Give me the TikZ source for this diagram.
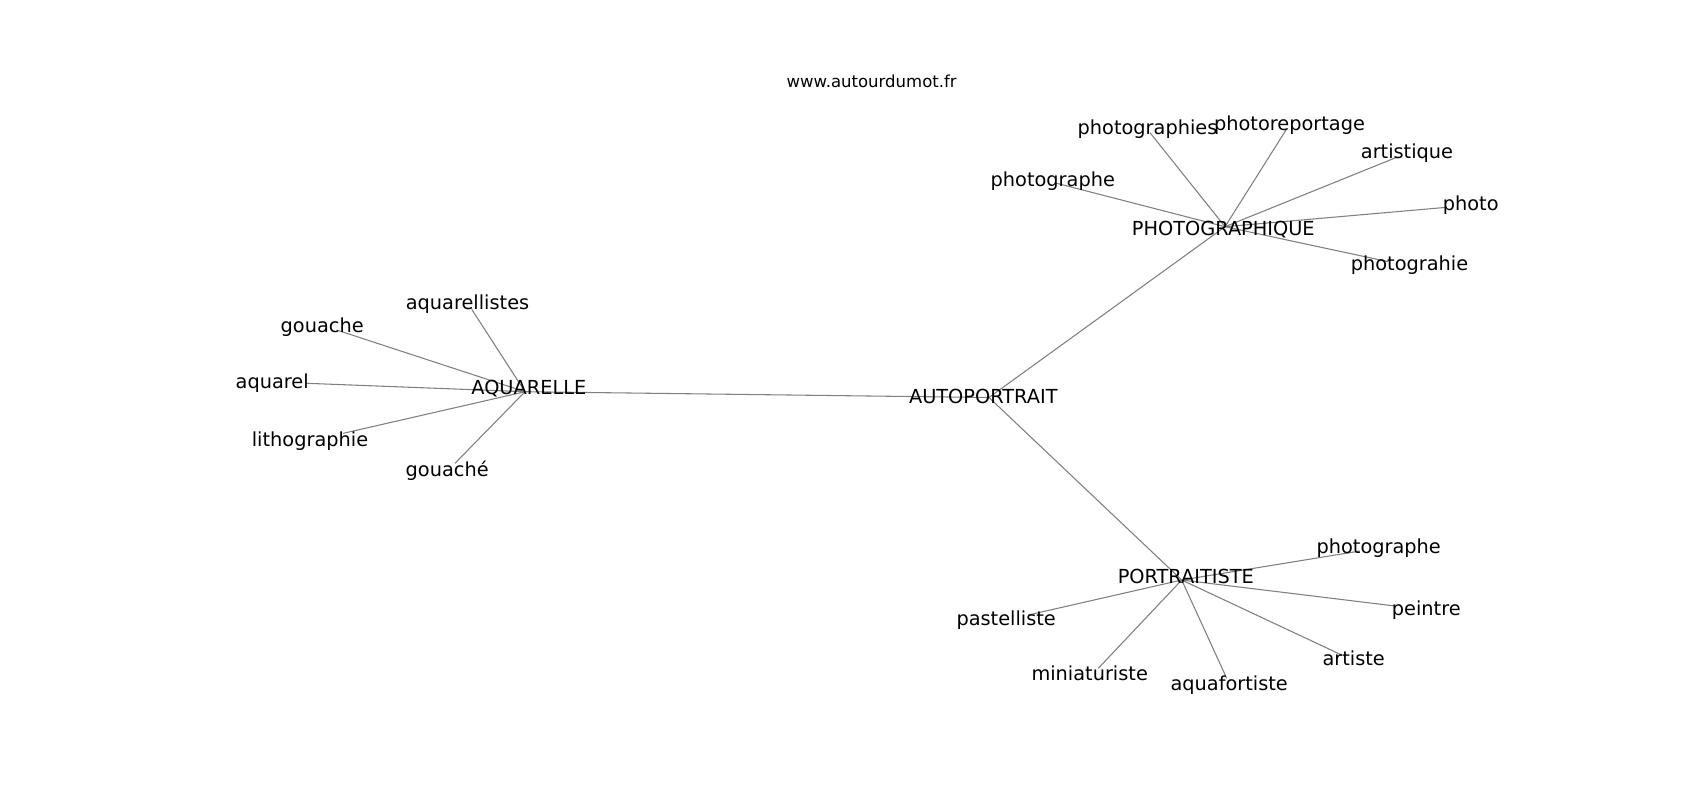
\documentclass[tikz,border=0pt]{standalone}
\usepackage{fontspec}
\setmainfont{DejaVu Sans}
\begin{document}
\begin{tikzpicture}[x=0.75pt,y=-0.75pt,
  lbl/.style={inner sep=0pt,anchor=base,text=black,font=\fontsize{14.5}{17}\selectfont},
  ttl/.style={inner sep=0pt,anchor=base,text=black,font=\fontsize{12.4}{14}\selectfont},
  edge/.style={draw=gray,line width=0.8pt}]
\useasboundingbox[fill=white] (0,0) rectangle (1700,800);
% node positions
\coordinate (aquarelle) at (525,391.7);
\coordinate (aquarellistes) at (471.7,309.3);
\coordinate (gouache) at (336.7,330);
\coordinate (aquarel) at (306.7,383.3);
\coordinate (lithographie) at (343.3,433.3);
\coordinate (gouacheacc) at (455,463.3);
\coordinate (autoportrait) at (989,397.5);
\coordinate (photographique) at (1225,226.7);
\coordinate (photographies) at (1150,132.7);
\coordinate (photoreportage) at (1286,130);
\coordinate (photographeA) at (1056.7,183.3);
\coordinate (artistique) at (1396.7,157.3);
\coordinate (photo) at (1446.7,207.3);
\coordinate (photograhie) at (1388.3,261.7);
\coordinate (portraitiste) at (1181.7,580);
\coordinate (pastelliste) at (1028.3,615);
\coordinate (photographeB) at (1360,551);
\coordinate (peintre) at (1395,606);
\coordinate (artiste) at (1341.7,655);
\coordinate (miniaturiste) at (1098.3,668.3);
\coordinate (aquafortiste) at (1226.7,678.3);
% edges
\foreach \a/\b in {autoportrait/aquarelle, autoportrait/photographique, autoportrait/portraitiste,
  aquarelle/aquarellistes, aquarelle/gouache, aquarelle/aquarel, aquarelle/lithographie, aquarelle/gouacheacc,
  photographique/photographies, photographique/photoreportage, photographique/photographeA,
  photographique/artistique, photographique/photo, photographique/photograhie,
  portraitiste/pastelliste, portraitiste/photographeB, portraitiste/peintre,
  portraitiste/artiste, portraitiste/miniaturiste, portraitiste/aquafortiste}
  \draw[edge] (\a) -- (\b);
% labels
\node[ttl] (title) at (871.7,87.7) {www.autourdumot.fr};
\node[lbl] (aquarelle-l) at (528.8,394) {AQUARELLE};
\node[lbl] (aquarellistes-l) at (467.5,309.3) {aquarellistes};
\node[lbl] (gouache-l) at (322.2,332.7) {gouache};
\node[lbl] (aquarel-l) at (272.2,388.3) {aquarel};
\node[lbl] (lithographie-l) at (310,446) {lithographie};
\node[lbl] (gouacheacc-l) at (447.2,476) {gouaché};
\node[lbl] (autoportrait-l) at (983.3,403.3) {AUTOPORTRAIT};
\node[lbl] (photographique-l) at (1223.3,235.7) {PHOTOGRAPHIQUE};
\node[lbl] (photographies-l) at (1147.5,134.3) {photographies};
\node[lbl] (photoreportage-l) at (1289.5,130) {photoreportage};
\node[lbl] (photographeA-l) at (1052.8,186.7) {photographe};
\node[lbl] (artistique-l) at (1407,158.3) {artistique};
\node[lbl] (photo-l) at (1470.7,210.7) {photo};
\node[lbl] (photograhie-l) at (1409.5,270.7) {photograhie};
\node[lbl] (portraitiste-l) at (1185.8,583.3) {PORTRAITISTE};
\node[lbl] (pastelliste-l) at (1006.2,625.7) {pastelliste};
\node[lbl] (photographeB-l) at (1378.7,553.3) {photographe};
\node[lbl] (peintre-l) at (1426.3,615) {peintre};
\node[lbl] (artiste-l) at (1353.7,665.7) {artiste};
\node[lbl] (miniaturiste-l) at (1089.7,680) {miniaturiste};
\node[lbl] (aquafortiste-l) at (1229.2,690) {aquafortiste};
\end{tikzpicture}
\end{document}
